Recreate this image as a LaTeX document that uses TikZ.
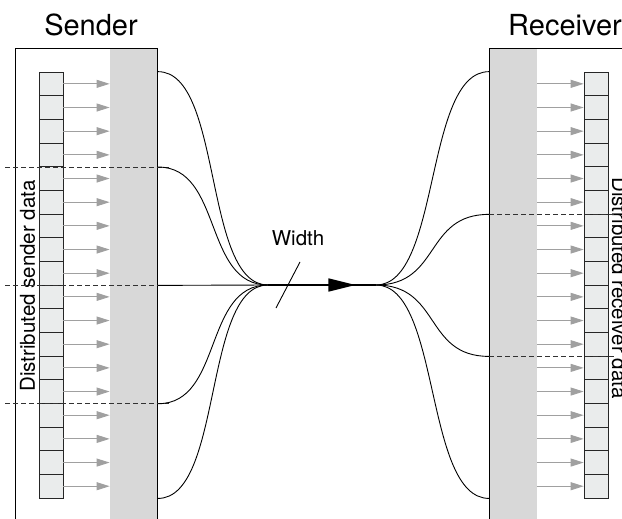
\documentclass[tikz,border=0pt]{standalone}
\usepackage{fontspec}
\setmainfont{TeX Gyre Heros}
\usetikzlibrary{arrows.meta, positioning, decorations.markings}
\definecolor{bufgray}{RGB}{216, 216, 216}
\definecolor{cellgray}{RGB}{234, 236, 236}
\definecolor{feedgray}{RGB}{160, 160, 160}
\definecolor{cutgray}{RGB}{50, 50, 50}

\begin{document}
\begin{tikzpicture}[
    x=1pt, y=-1pt,
    frame/.style={draw, line width=1pt, minimum height=475, inner sep=0pt},
    buffer/.style={fill=bufgray, minimum width=47, minimum height=475, inner sep=0pt},
    cell/.style={draw=black!85, fill=cellgray, line width=0.7pt, minimum width=24, minimum height=23.67, inner sep=0pt},
    feed/.style={feedgray, line width=0.9pt, -{Triangle[length=13pt, width=8pt]}},
    cut/.style={cutgray, line width=0.9pt, dash pattern=on 5pt off 3pt},
    wire/.style={line width=0.9pt},
    link/.style={line width=1.7pt, postaction={decorate}, decoration={markings, mark=at position 0.81 with {\arrow{Triangle[length=27pt, width=13pt]}}}},
    title/.style={font=\fontsize{29}{34}\selectfont},
    side/.style={font=\fontsize{20.5}{24}\selectfont, inner sep=0pt}
]
\useasboundingbox (0,0) rectangle (622,519);

% Sender side
\node[buffer, anchor=north east] (sbuf) at (157,48) {};
\node[frame, minimum width=142, anchor=north west] (sbox) at (15,48) {};
\node[title] (stitle) at (91,25) {Sender};
\foreach \i in {1,...,18} {
    \node[cell] (s\i) at (51, 60.17+23.67*\i) {};
    \draw[feed] (s\i.east) -- (s\i.east -| sbuf.west);
}
\node[side, rotate=90] (slabel) at (27.5,286) {Distributed sender data};
\foreach \k in {4, 9, 14}
    \draw[cut] ([xshift=-10pt]s\k.south -| sbox.west) -- ([xshift=11pt]s\k.south -| sbox.east);

% Receiver side
\node[buffer, minimum width=48, anchor=north west] (rbuf) at (489,48) {};
\node[frame, minimum width=142, anchor=north west] (rbox) at (489,48) {};
\node[title] (rtitle) at (565,25) {Receiver};
\foreach \i in {1,...,18} {
    \node[cell] (r\i) at (596, 60.17+23.67*\i) {};
    \draw[feed] (r\i.west -| rbuf.east) -- (r\i.west);
}
\node[side, rotate=-90] (rlabel) at (619.5,288) {Distributed receiver data};
\foreach \k in {6, 12}
    \draw[cut] (r\k.south -| rbox.west) -- ([xshift=20pt]r\k.south);

% Channel
\coordinate (fanin) at (268,285);
\coordinate (fanout) at (376,285);
\draw[wire] (s9.south -| sbox.east) -- (fanin);
\foreach \a in {s1.north, s4.south, s14.south, s18.south}
    \draw[wire] (\a -| sbox.east) .. controls +(65,0) and +(-65,0) .. (fanin);
\foreach \a in {r1.north, r6.south, r12.south, r18.south}
    \draw[wire] (fanout) .. controls +(65,0) and +(-65,0) .. (\a -| rbox.west);
\draw[link] (fanin) -- (fanout);

% Width tick
\coordinate (tick) at (288,285);
\draw[wire] ([shift={(12,-23)}]tick) -- ([shift={(-12,23)}]tick);
\node[side] (wlabel) at (298,238) {Width};

\end{tikzpicture}
\end{document}
